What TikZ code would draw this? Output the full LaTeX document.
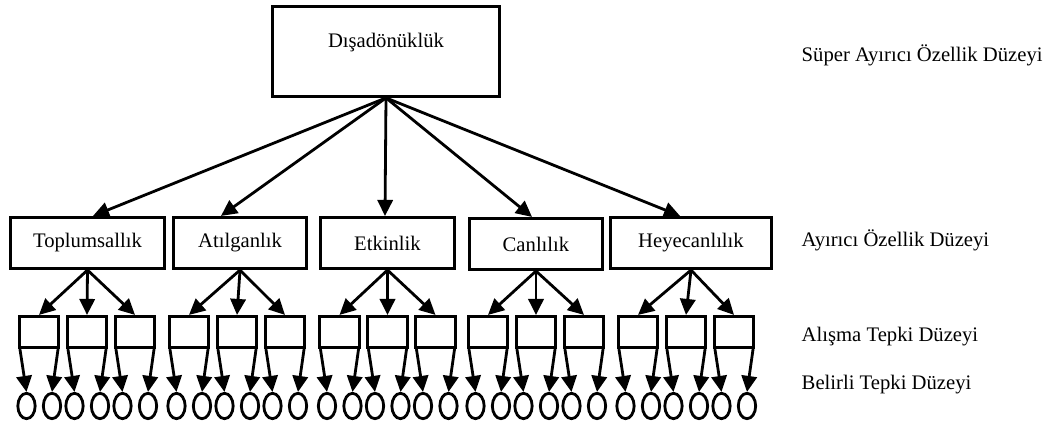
\documentclass[tikz,border=0pt]{standalone}
\usepackage{fontspec}
\setmainfont{Liberation Serif}
\usetikzlibrary{arrows.meta,shapes.geometric}

\tikzset{
  kutu/.style={draw, line width=2.1pt, inner sep=0pt},
  halka/.style={draw, ellipse, line width=2.1pt, inner sep=0pt,
    minimum width=13pt, minimum height=19pt},
  ok/.style={line width=2.1pt, -{Triangle[length=12pt,width=11.5pt]}},
}

\begin{document}
\begin{tikzpicture}[x=0.75pt, y=-0.75pt, font=\fontsize{15.5}{18}\selectfont]
  \useasboundingbox (0,0) rectangle (1057,428);
  % Sizes
  \pgfmathsetmacro{\adim}{48}
  \pgfmathsetmacro{\sol}{-12.5}
  \pgfmathsetmacro{\sag}{13}

  % ust kutu
  \node[kutu, minimum width=170pt, minimum height=67.5pt,
        label={[yshift=6.4pt]center:Dışadönüklük}] (dis) at (386,51.5) {};

  % ayirici ozellikler, aliskanlik kutulari, tepkiler
  \foreach \ad/\cx/\cy/\gen/\grup/\uc/\yazi in {
      toplum/87.5/243/157/87/5.5/Toplumsallık,
      atil/240/243/136/237/-19/Atılganlık,
      etkin/387.5/243/137/387.5/-2.5/Etkinlik,
      canli/536/244/136/536/-4/Canlılık,
      heyecan/691/243/164/686/-11/Heyecanlılık}{
    \node[kutu, minimum width={(\gen-2.8)*0.75pt}, minimum height=38.5pt]
      (\ad) at (\cx,\cy) {\yazi};
    \draw[ok] (dis.south) -- ([xshift=\uc*0.75pt]\ad.north);
    \foreach \j in {1,2,3}{
      \pgfmathsetmacro{\kx}{\grup+(\j-2)*\adim}
      \node[kutu, minimum width=29.5pt, minimum height=23.5pt] (\ad\j) at (\kx,332) {};
      \draw[ok] (\ad.south) -- (\ad\j.north);
      \node[halka] (\ad\j-l) at (\kx+\sol,406) {};
      \node[halka] (\ad\j-r) at (\kx+\sag,406) {};
      \draw[ok] ([xshift=1.5pt]\ad\j.south west) -- (\ad\j-l.north);
      \draw[ok] ([xshift=-1.5pt]\ad\j.south east) -- (\ad\j-r.north);
    }
  }

  % duzey etiketleri
  \node[anchor=west] (super) at (797,55) {Süper Ayırıcı Özellik Düzeyi};
  \node[anchor=west] (ayirici) at (797,240) {Ayırıcı Özellik Düzeyi};
  \node[anchor=west] (alisma) at (797,337) {Alışma Tepki Düzeyi};
  \node[anchor=west] (belirli) at (797,385) {Belirli Tepki Düzeyi};
\end{tikzpicture}
\end{document}
